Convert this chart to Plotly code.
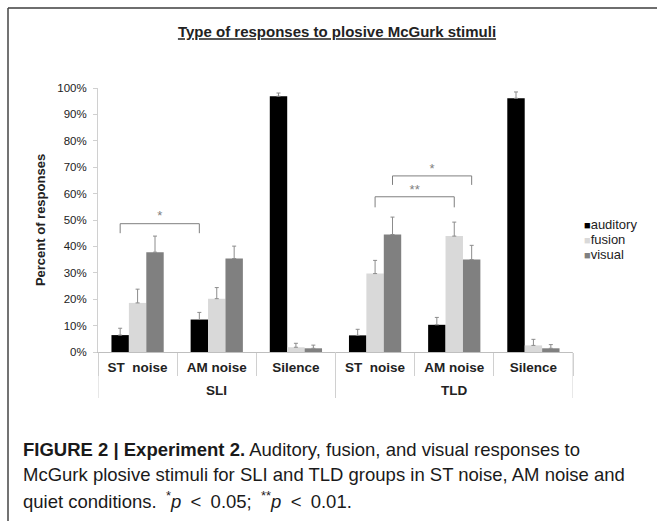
import plotly.graph_objects as go

# ---------------- data ----------------
groups = ["SLI", "SLI", "SLI", "TLD", "TLD", "TLD"]
conditions = ["ST\u00a0 noise", "AM noise", "Silence", "ST\u00a0 noise", "AM noise", "Silence"]
series_names = ["auditory", "fusion", "visual"]

auditory = [6.4, 12.3, 96.9, 6.3, 10.3, 96.1]
fusion = [18.6, 20.2, 1.8, 29.7, 43.9, 2.5]
visual = [37.8, 35.4, 1.4, 44.5, 35.0, 1.4]

auditory_err = [2.6, 2.7, 1.2, 2.3, 2.8, 2.4]
fusion_err = [5.2, 4.2, 1.5, 5.0, 5.3, 2.3]
visual_err = [6.1, 4.7, 1.2, 6.6, 5.4, 1.4]

series_colors = ["#000000", "#d9d9d9", "#808080"]

# significance brackets: (from index, to index, series, top level, tick bottom, label)
brackets = [
    (0, 1, "auditory", 48.6, 45.0, "*"),
    (3, 4, "fusion", 58.8, 54.8, "**"),
    (3, 4, "visual", 66.7, 63.3, "*"),
]

title_text = "Type of responses to plosive McGurk stimuli"
y_title = "Percent of responses"
caption_lines = [
    "<b>FIGURE 2 | Experiment 2.</b> Auditory, fusion, and visual responses to",
    "McGurk plosive stimuli for SLI and TLD groups in ST noise, AM noise and",
    "quiet conditions.\u2002<sup>*</sup><i>p</i>\u2002&lt;\u20020.05;\u2002<sup>**</sup><i>p</i>\u2002&lt;\u20020.01.",
]

# ---------------- figure ----------------
W, H = 657, 521
ML, MR, MT, MB = 98, 84, 88, 169
PW, PH = W - ML - MR, H - MT - MB
BARGAP = 0.34
bar_w = (1 - BARGAP) / 3
FONT = "Liberation Sans, Arial, sans-serif"
AXCOL = "#d0d0d0"

def px_x(px):
    return (px - ML) / PW

def px_y(py):
    return (H - MB - py) / PH

x_pos = list(range(len(conditions)))

fig = go.Figure()
values = [auditory, fusion, visual]
errors = [auditory_err, fusion_err, visual_err]
for name, vals, errs, col in zip(series_names, values, errors, series_colors):
    fig.add_trace(go.Bar(
        name=name, x=x_pos, y=vals, showlegend=False,
        marker=dict(color=col, line=dict(width=0)),
        error_y=dict(type="data", array=errs, arrayminus=[0] * len(errs),
                     symmetric=False, color="#8c8c8c", thickness=1, width=2),
    ))

# legend entries (one small legend per series, placed like the reference)
legend_ids = ["legend", "legend2", "legend3"]
legend_layout = {}
for k, (name, col, lid) in enumerate(zip(series_names, series_colors, legend_ids)):
    fig.add_trace(go.Scatter(
        x=[None], y=[None], mode="none",
        name=f"<span style='color:{col};font-size:11px'>\u25a0</span>{name}",
        legend=lid, showlegend=True, hoverinfo="skip",
    ))
    legend_layout[lid] = dict(
        x=px_x(544), y=px_y(224 + 15 * k), xanchor="left", yanchor="middle",
        font=dict(size=13, family=FONT, color="#222222"), itemwidth=30,
        bgcolor="rgba(0,0,0,0)", borderwidth=0,
    )

# significance brackets
series_offset = {n: (i - 1) * bar_w for i, n in enumerate(series_names)}
for i0, i1, s, top, bottom, label in brackets:
    xa = i0 + series_offset[s]
    xb = i1 + series_offset[s]
    fig.add_trace(go.Scatter(
        x=[xa, xa, xb, xb], y=[bottom, top, top, bottom],
        mode="lines", line=dict(color="#7f7f7f", width=1),
        showlegend=False, hoverinfo="skip",
    ))
    fig.add_trace(go.Scatter(
        x=[(xa + xb) / 2], y=[top], mode="text", text=[label],
        textposition="top center",
        textfont=dict(family=FONT, size=13, color="#7f7f7f"),
        showlegend=False, hoverinfo="skip",
    ))

fig.update_layout(
    width=W, height=H,
    margin=dict(l=ML, r=MR, t=MT, b=MB, autoexpand=False),
    paper_bgcolor="white", plot_bgcolor="white",
    barmode="group", bargap=BARGAP, bargroupgap=0,
    font=dict(family=FONT, color="#222222"),
    title=dict(text="<b>" + title_text + "</b>", x=px_x(337), xref="paper",
               xanchor="center", y=1 - 32 / H, yanchor="middle",
               font=dict(size=15, color="#222222", lineposition="under")),
    xaxis=dict(
        range=[-0.5, len(conditions) - 0.5],
        tickvals=x_pos, ticktext=conditions, ticks="",
        showline=True, linecolor="#bfbfbf", linewidth=1,
        tickfont=dict(size=13.5, family=FONT, color="#222222", weight="bold"),
        ticklabelstandoff=3,
        minor=dict(tick0=0.5, dtick=1, ticks="outside", ticklen=23, tickcolor=AXCOL, showgrid=False),
        showgrid=False, zeroline=False, fixedrange=True,
    ),
    yaxis=dict(
        range=[0, 100], tickvals=list(range(0, 101, 10)),
        ticktext=[f"{v}%" for v in range(0, 101, 10)],
        showline=True, linecolor=AXCOL, linewidth=1,
        ticks="outside", ticklen=4, tickcolor=AXCOL, ticklabelstandoff=4,
        tickfont=dict(size=11.5, color="#222222", family=FONT),
        showgrid=False, zeroline=False, fixedrange=True,
        title=dict(text="<b>" + y_title + "</b>", font=dict(size=13, color="#222222", family=FONT), standoff=8),
    ),
    **legend_layout,
)

# group labels and group dividers below the category axis
group_names = []
for g in groups:
    if g not in group_names:
        group_names.append(g)
for g in group_names:
    idx = [i for i, gg in enumerate(groups) if gg == g]
    fig.add_annotation(
        text=f"<b>{g}</b>", xref="x", yref="paper",
        x=(idx[0] + idx[-1]) / 2, y=px_y(390), yanchor="middle",
        showarrow=False, font=dict(size=13.5, family=FONT, color="#222222"),
    )
bounds = [-0.5] + [i + 0.5 for i in range(len(groups) - 1) if groups[i] != groups[i + 1]] + [len(groups) - 0.5]
for b in bounds:
    fig.add_shape(type="line", xref="x", yref="paper", x0=b, x1=b,
                  y0=0, y1=px_y(398), line=dict(color=AXCOL, width=1))

# frame lines
fig.add_shape(type="line", xref="paper", yref="paper",
              x0=px_x(8), x1=px_x(W), y0=px_y(8), y1=px_y(8),
              line=dict(color="#6e6e6e", width=2))
fig.add_shape(type="line", xref="paper", yref="paper",
              x0=px_x(8), x1=px_x(8), y0=px_y(8), y1=px_y(H),
              line=dict(color="#444444", width=1.5))

# caption
for k, line in enumerate(caption_lines):
    fig.add_annotation(
        text=line, xref="paper", yref="paper",
        x=px_x(21), y=px_y(449 + 25.5 * k), xanchor="left", yanchor="middle",
        showarrow=False, align="left",
        font=dict(size=18.5, family=FONT, color="#1a1a1a"),
    )

fig.write_html("out.html", config={"displayModeBar": False},
               post_script="document.body.style.margin='0';")
